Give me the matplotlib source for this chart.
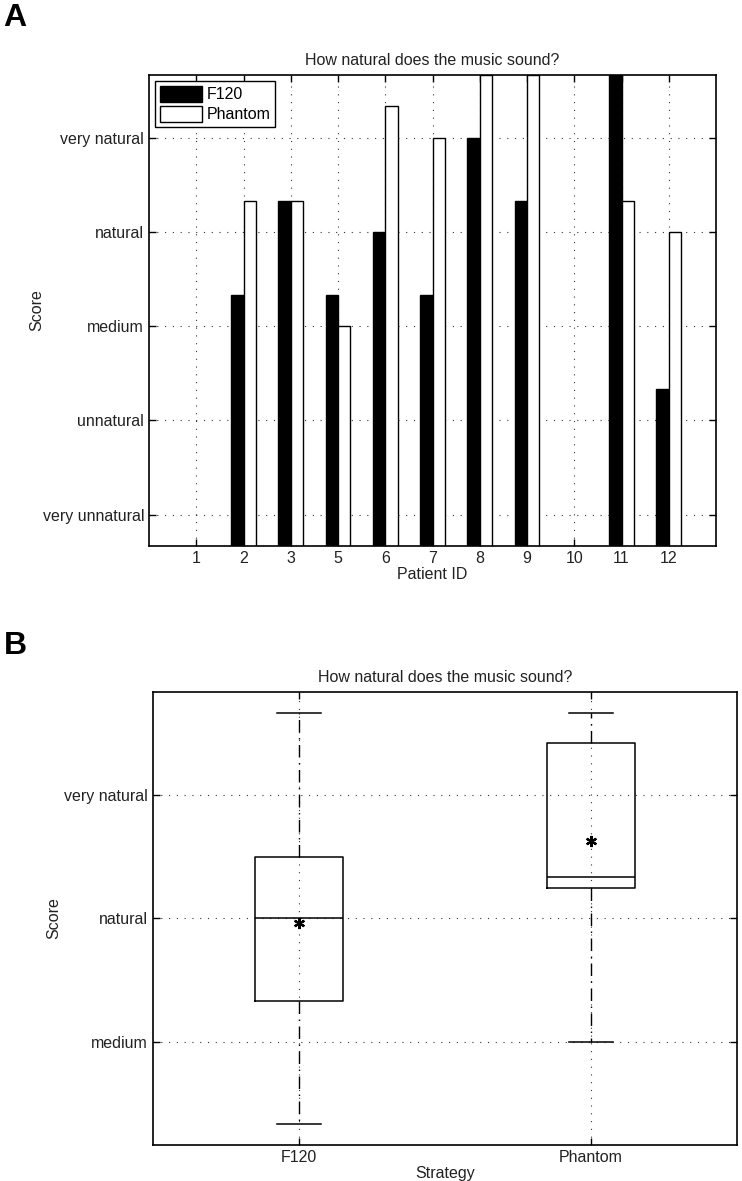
import numpy as np
import matplotlib
matplotlib.use("Agg")
import matplotlib.pyplot as plt
from matplotlib.patches import Patch

plt.rcParams['font.family'] = ['Liberation Sans', 'DejaVu Sans']
plt.rcParams['font.size'] = 11.5

# ---------------- data ----------------
patient_ids = ["1", "2", "3", "5", "6", "7", "8", "9", "10", "11", "12"]
f120_scores = [np.nan, 10/3, 13/3, 10/3, 4.0, 10/3, 5.0, 13/3, np.nan, 17/3, 7/3]
phantom_scores = [np.nan, 13/3, 13/3, 3.0, 16/3, 5.0, 17/3, 17/3, np.nan, 13/3, 4.0]
score_labels_a = ["very unnatural", "unnatural", "medium", "natural", "very natural"]
score_ticks_a = [1, 2, 3, 4, 5]
score_labels_b = ["medium", "natural", "very natural"]
score_ticks_b = [3, 4, 5]
strategies = ["F120", "Phantom"]
title = "How natural does the music sound?"

W, H = 742, 1181
fig = plt.figure(figsize=(W / 100, H / 100), dpi=100)

def frac(l, t, r, b):
    return [l / W, 1 - b / H, (r - l) / W, (b - t) / H]

grid_kw = dict(color='black', linestyle=(0, (1, 6)), linewidth=0.8, alpha=0.8)

def style_axes(ax):
    for s in ax.spines.values():
        s.set_linewidth(1.2)
    ax.tick_params(direction='in', length=5, width=1.0, top=True, right=True,
                   labelsize=11.5, colors='black', labelcolor='#222222')
    ax.grid(True, **grid_kw)
    ax.set_axisbelow(True)

# ---------------- panel A ----------------
axA = fig.add_axes(frac(149, 75, 716, 546))
x = np.arange(1, len(patient_ids) + 1)
w = 0.26
axA.bar(x - w, f120_scores, w, align='edge', color='black', edgecolor='black',
        linewidth=1.0, label='F120')
axA.bar(x, phantom_scores, w, align='edge', color='white', edgecolor='black',
        linewidth=1.0, label='Phantom')
axA.set_xlim(0, 12)
axA.set_ylim(2/3, 17/3)
axA.set_xticks(x)
axA.set_xticklabels(patient_ids)
axA.set_yticks(score_ticks_a)
axA.set_yticklabels(score_labels_a)
style_axes(axA)
axA.set_title(title, fontsize=11.5, pad=7, color='#222222')
axA.set_xlabel("Patient ID", labelpad=1, color='#222222')
axA.set_ylabel("Score", labelpad=-1, color='#222222')
leg = axA.legend(handles=[Patch(facecolor='black', edgecolor='black', label='F120'),
                          Patch(facecolor='white', edgecolor='black', label='Phantom')],
                 loc='upper left', fancybox=False, edgecolor='black', framealpha=1,
                 handlelength=2.6, handleheight=1.1, handletextpad=0.3,
                 borderpad=0.3, labelspacing=0.25, borderaxespad=0.4, fontsize=11.5)
leg.get_frame().set_linewidth(1.0)

# ---------------- panel B ----------------
axB = fig.add_axes(frac(153, 692, 737, 1145))
stats = []
for name, vals in zip(strategies, [f120_scores, phantom_scores]):
    v = np.array([s for s in vals if not np.isnan(s)])
    q1, med, q3 = np.percentile(v, [25, 50, 75], method='hazen')
    iqr = q3 - q1
    lo = v[v >= q1 - 1.5 * iqr].min()
    hi = v[v <= q3 + 1.5 * iqr].max()
    stats.append(dict(label=name, q1=q1, med=med, q3=q3, whislo=lo, whishi=hi,
                      mean=v.mean(), fliers=[]))
axB.bxp(stats, positions=[1, 2], widths=0.3, capwidths=0.15, showmeans=True,
        boxprops=dict(color='black', linewidth=1.1),
        medianprops=dict(color='black', linewidth=1.1),
        whiskerprops=dict(color='black', linestyle=(0, (9, 4, 1, 4)), linewidth=1.0),
        capprops=dict(color='black', linewidth=1.1),
        meanprops=dict(marker=(6, 2, 0), markerfacecolor='black', markeredgecolor='black',
                       markeredgewidth=1.6, markersize=8))
axB.set_xlim(0.5, 2.5)
axB.set_ylim(13/6, 35/6)
axB.set_xticks([1, 2])
axB.set_xticklabels(strategies)
axB.set_yticks(score_ticks_b)
axB.set_yticklabels(score_labels_b)
style_axes(axB)
axB.set_title(title, fontsize=11.5, pad=7, color='#222222')
axB.set_xlabel("Strategy", labelpad=1, color='#222222')
axB.set_ylabel("Score", labelpad=2, color='#222222')

# panel letters
fig.text(3 / W, 1 - 3 / H, "A", fontsize=23, fontweight='bold', va='top', ha='left')
fig.text(4 / W, 1 - 631 / H, "B", fontsize=23, fontweight='bold', va='top', ha='left')

fig.savefig("out.png", dpi=100)
